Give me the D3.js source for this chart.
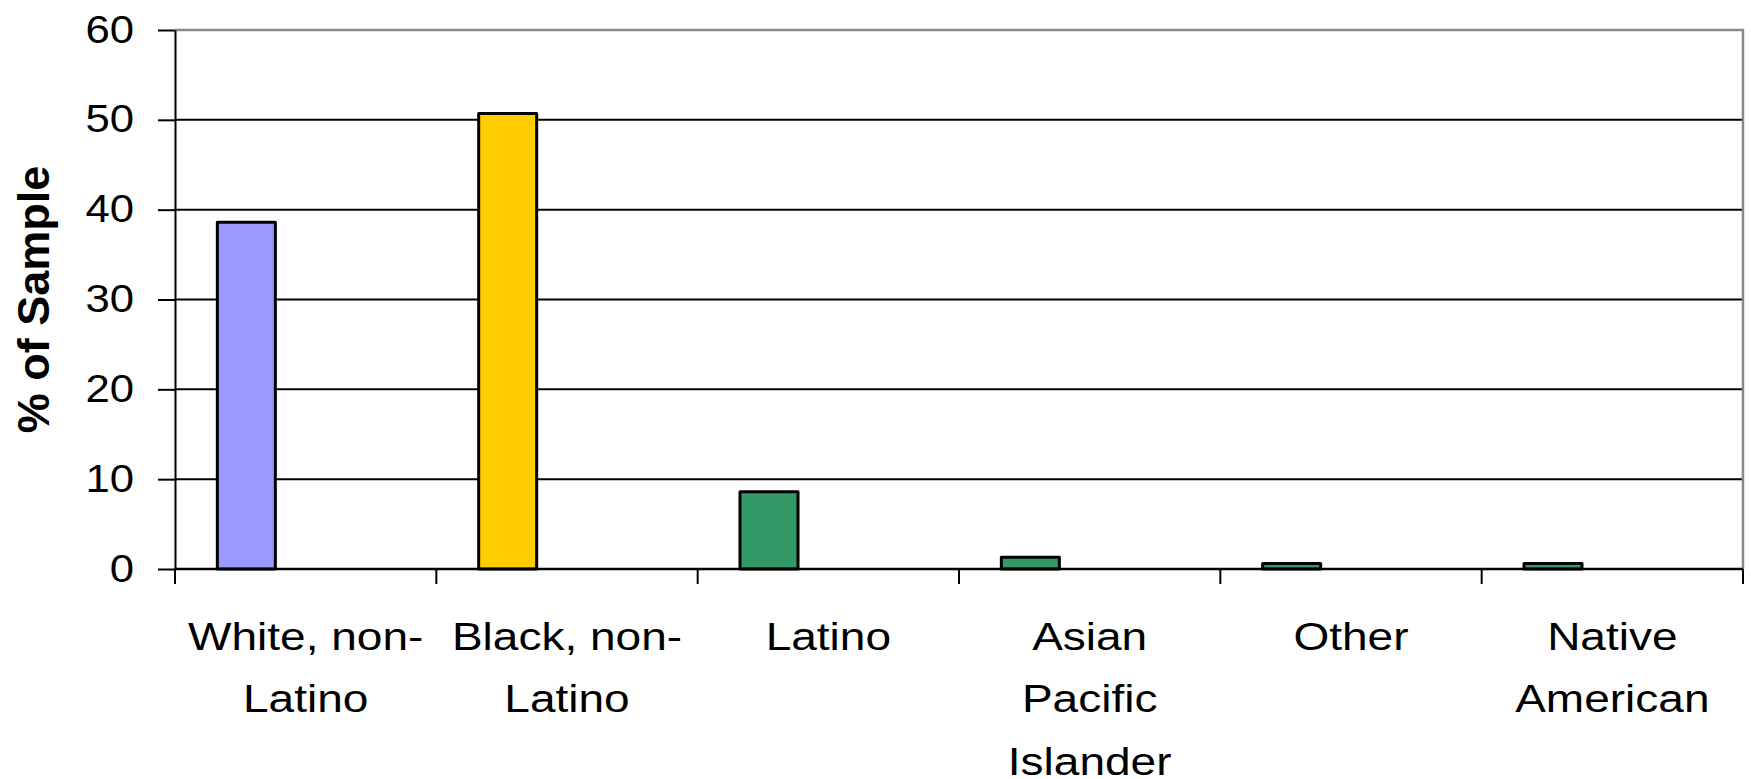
<!DOCTYPE html>
<html>
<head>
<meta charset="utf-8">
<script src="https://cdn.jsdelivr.net/npm/d3@7"></script>
<style>
  html, body { margin: 0; padding: 0; background: #fff; }
  svg { display: block; font-family: "Liberation Sans", Arial, sans-serif; }
</style>
</head>
<body>
<svg id="chart" width="1751" height="779"></svg>
<script>
// Sample composition by race / ethnicity (% of sample)
const categories = ["White, non-Latino", "Black, non-Latino", "Latino", "Asian Pacific Islander", "Other", "Native American"];
const values = [38.6, 50.7, 8.6, 1.3, 0.6, 0.6];
const categoryLabels = [
  ["White, non-", "Latino"],
  ["Black, non-", "Latino"],
  ["Latino"],
  ["Asian", "Pacific", "Islander"],
  ["Other"],
  ["Native", "American"]
];
const barColors = ["#9999FF", "#FFCC00", "#339966", "#339966", "#339966", "#339966"];
const yTicks = [0, 10, 20, 30, 40, 50, 60];
const yTitle = "% of Sample";

const plot = { left: 175, right: 1743, top: 30, bottom: 569 };
const fontSize = 38;
const stretch = 1.15; // horizontal text stretch

const svg = d3.select("#chart");

const x = d3.scaleBand().domain(categories).range([plot.left, plot.right]).padding(0);
const y = d3.scaleLinear().domain([0, 60]).range([plot.bottom, plot.top]);

// horizontal gridlines
svg.append("g")
  .selectAll("line")
  .data(yTicks.filter(t => t > 0 && t < 60))
  .join("line")
  .attr("x1", plot.left).attr("x2", plot.right)
  .attr("y1", d => y(d)).attr("y2", d => y(d))
  .attr("stroke", "#000").attr("stroke-width", 2);

// plot border (top and right)
svg.append("path")
  .attr("d", `M${plot.left},${y(60)}H${plot.right}V${plot.bottom}`)
  .attr("fill", "none").attr("stroke", "#888").attr("stroke-width", 2.5);

// bars
const bw = x.bandwidth();
svg.append("g")
  .selectAll("rect")
  .data(categories)
  .join("rect")
  .attr("x", d => x(d) + bw * 0.162)
  .attr("width", bw * 0.222)
  .attr("y", (d, i) => y(values[i]))
  .attr("height", (d, i) => y(0) - y(values[i]))
  .attr("fill", (d, i) => barColors[i])
  .attr("stroke", "#000").attr("stroke-width", 3)
  .attr("stroke-linejoin", "round");

// y axis
const yAxis = svg.append("g")
  .attr("transform", `translate(${plot.left},0)`)
  .call(d3.axisLeft(y).tickValues(yTicks).tickSize(17).tickPadding(26).tickSizeOuter(0));
yAxis.select(".domain").attr("stroke", "#000").attr("stroke-width", 2);
yAxis.selectAll(".tick line").attr("stroke", "#000").attr("stroke-width", 2);
yAxis.selectAll(".tick text")
  .attr("x", 0)
  .attr("transform", `translate(-41,0) scale(${stretch},1)`)
  .attr("fill", "#000")
  .style("font-size", fontSize + "px")
  .style("font-family", "'Liberation Sans', Arial, sans-serif");

// x axis: baseline and category boundary ticks
svg.append("line")
  .attr("x1", plot.left).attr("x2", plot.right)
  .attr("y1", y(0)).attr("y2", y(0))
  .attr("stroke", "#000").attr("stroke-width", 2.5);

const boundaries = categories.map(c => x(c)).concat([x(categories[categories.length - 1]) + bw]);
svg.append("g")
  .selectAll("line")
  .data(boundaries)
  .join("line")
  .attr("x1", d => d).attr("x2", d => d)
  .attr("y1", y(0)).attr("y2", y(0) + 15)
  .attr("stroke", "#000").attr("stroke-width", 2);

// category labels
const lineGap = 62.5;
const firstBaseline = 650;
const labels = svg.append("g").selectAll("text")
  .data(categories)
  .join("text")
  .attr("transform", d => `translate(${x(d) + bw / 2},0) scale(1.18,1)`)
  .attr("text-anchor", "middle")
  .attr("fill", "#000")
  .style("font-size", "39px");
labels.selectAll("tspan")
  .data((d, i) => categoryLabels[i])
  .join("tspan")
  .attr("x", 0)
  .attr("y", (d, j) => firstBaseline + j * lineGap)
  .text(d => d);

// y axis title
svg.append("text")
  .attr("transform", `translate(33,${(plot.top + plot.bottom) / 2}) rotate(-90)`)
  .attr("text-anchor", "middle")
  .attr("dy", "0.35em")
  .attr("fill", "#000")
  .style("font-size", "45px")
  .style("font-weight", "bold")
  .text(yTitle);
</script>
</body>
</html>
